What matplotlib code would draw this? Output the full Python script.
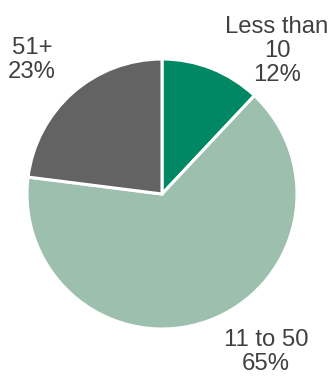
import matplotlib
matplotlib.use("Agg")
import matplotlib.pyplot as plt

categories = ["Less than\n10", "11 to 50", "51+"]
shares = [12, 65, 23]
colors = ["#008763", "#9dbfae", "#636363"]
label_pos = [(277, 51), (266, 352), (32, 60)]

W, H = 331, 376
fig = plt.figure(figsize=(W / 100, H / 100), dpi=100)
ax = fig.add_axes([0, 0, 1, 1])
ax.set_xlim(0, W)
ax.set_ylim(0, H)
ax.set_aspect("equal")
ax.axis("off")

ax.pie(shares, colors=colors, startangle=90, counterclock=False,
       center=(162, H - 194), radius=135,
       wedgeprops=dict(edgecolor="white", linewidth=2.2))
ax.set_xlim(0, W)
ax.set_ylim(0, H)

for cat, val, (x, y) in zip(categories, shares, label_pos):
    ax.text(x, H - y, f"{cat}\n{val}%", ha="center", va="center",
            fontsize=17.2, color="#404040", family="Liberation Sans",
            linespacing=1.12)

fig.savefig("out.png", dpi=100)
